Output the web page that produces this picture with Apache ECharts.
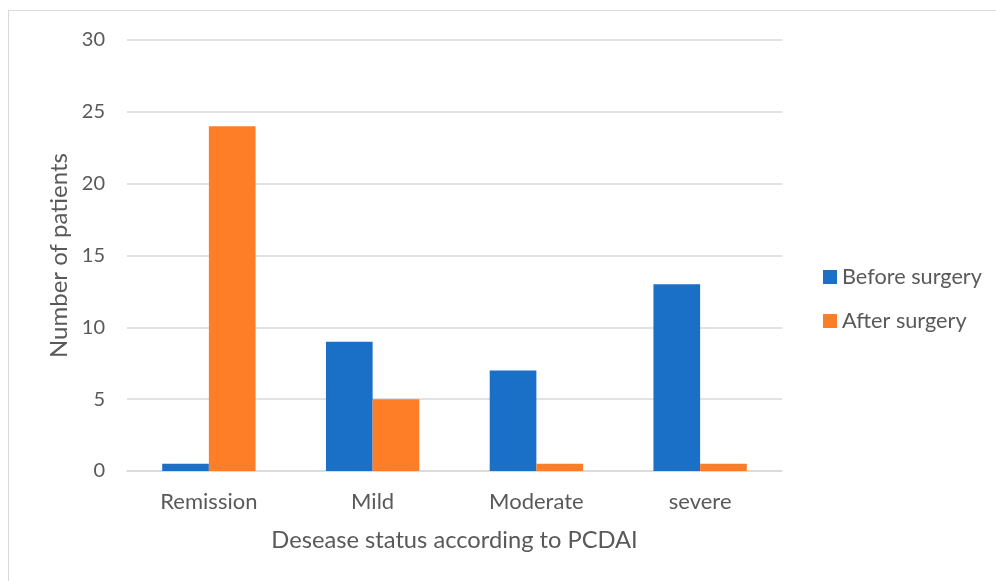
<!DOCTYPE html>
<html>
<head>
<meta charset="utf-8">
<script src="https://cdn.jsdelivr.net/npm/echarts@6/dist/echarts.min.js"></script>
<style>
  html, body { margin: 0; padding: 0; background: #fff; }
  #frame { position: absolute; left: 8px; top: 10px; width: 1100px; height: 700px; border: 1.5px solid #d9d9d9; box-sizing: border-box; }
  #chart { position: absolute; left: 0; top: 0; width: 996px; height: 581px; }
</style>
</head>
<body>
<div id="frame"></div>
<div id="chart"></div>
<script>
const categories = ['Remission', 'Mild', 'Moderate', 'severe'];
const beforeSurgery = [0.5, 9, 7, 13];
const afterSurgery = [24, 5, 0.5, 0.5];
const seriesNames = ['Before surgery', 'After surgery'];

const textColor = '#595959';
const fontFamily = 'Lato, "Open Sans", sans-serif';

const chart = echarts.init(document.getElementById('chart'), null, { renderer: 'canvas' });
chart.setOption({
  animation: false,
  textStyle: { fontFamily: fontFamily, color: textColor },
  grid: { left: 127, right: 214, top: 40, bottom: 110 },
  legend: {
    orient: 'vertical',
    left: 818,
    top: 261,
    itemWidth: 14,
    itemHeight: 14,
    itemGap: 22,
    icon: 'rect',
    textStyle: { fontSize: 21.7, color: textColor, fontFamily: fontFamily },
    data: seriesNames
  },
  xAxis: {
    type: 'category',
    data: categories,
    name: 'Desease status according to PCDAI',
    nameLocation: 'middle',
    nameGap: 57,
    nameTextStyle: { fontSize: 23.7, color: textColor, fontFamily: fontFamily },
    axisLine: { lineStyle: { color: '#d9d9d9', width: 1.5 } },
    axisTick: { show: false },
    axisLabel: { fontSize: 22, color: textColor, margin: 20, fontFamily: fontFamily }
  },
  yAxis: {
    type: 'value',
    min: 0,
    max: 30,
    interval: 5,
    name: 'Number of patients',
    nameLocation: 'middle',
    nameGap: 54,
    nameTextStyle: { fontSize: 24, color: textColor, fontFamily: fontFamily },
    axisLine: { show: false },
    axisTick: { show: false },
    axisLabel: { fontSize: 20, color: textColor, margin: 22, fontFamily: fontFamily },
    splitLine: { lineStyle: { color: '#d9d9d9', width: 1.5 } }
  },
  series: [
    {
      name: seriesNames[0],
      type: 'bar',
      data: beforeSurgery,
      barGap: '0%',
      barCategoryGap: '43%',
      itemStyle: { color: '#1A6FC7' }
    },
    {
      name: seriesNames[1],
      type: 'bar',
      data: afterSurgery,
      barGap: '0%',
      barCategoryGap: '43%',
      itemStyle: { color: '#FD7E26' }
    }
  ]
});
</script>
</body>
</html>
